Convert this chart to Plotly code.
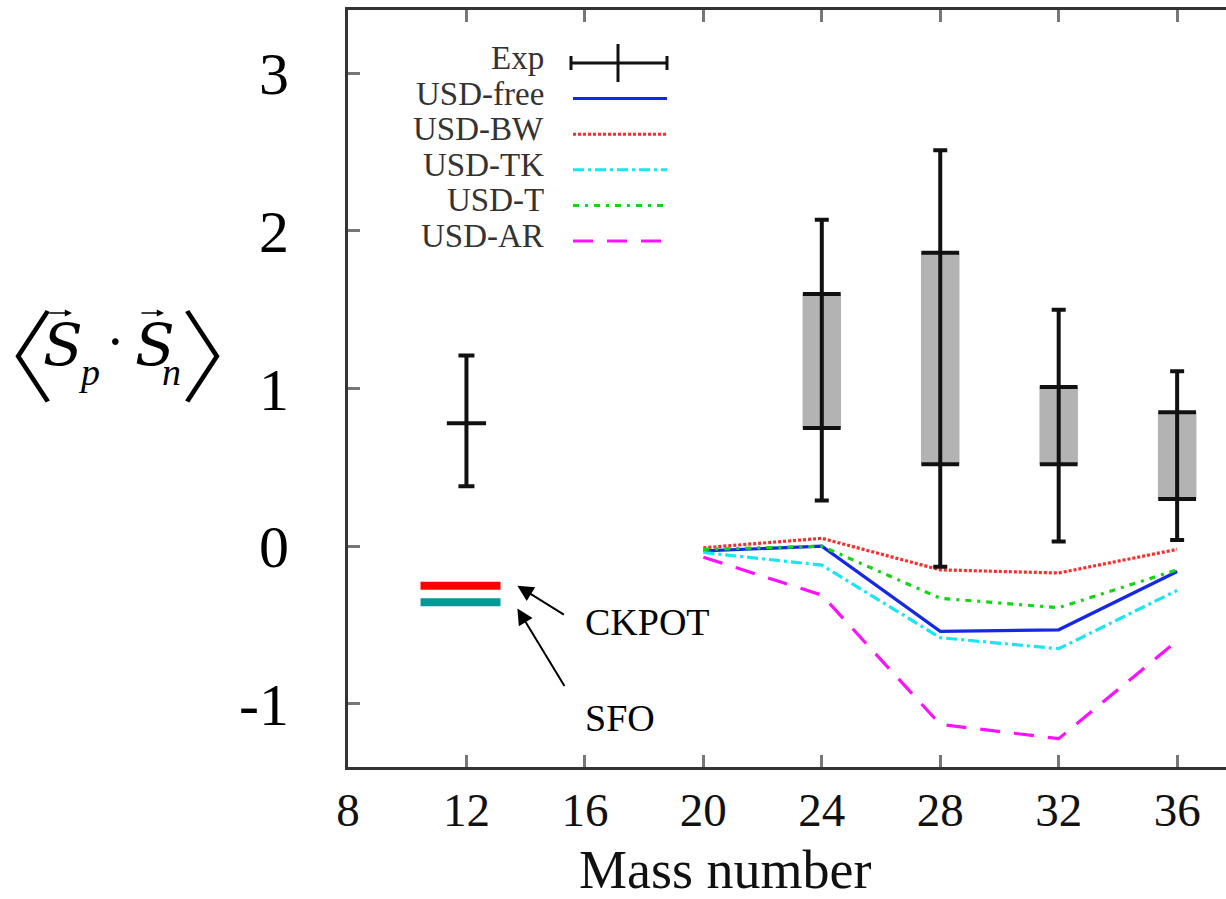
import plotly.graph_objects as go

# ---- data ----------------------------------------------------------------
mass_models = [20, 24, 28, 32, 36]
usd_free = [-0.03, 0.00, -0.54, -0.53, -0.16]
usd_bw = [-0.01, 0.05, -0.15, -0.17, -0.02]
usd_tk = [-0.04, -0.12, -0.58, -0.65, -0.28]
usd_t = [-0.02, 0.00, -0.33, -0.39, -0.15]
usd_ar = [-0.07, -0.31, -1.13, -1.22, -0.60]

# single measured value (A = 12)
exp_single_mass = [12]
exp_single_val = [0.78]
exp_single_lo = [0.38]
exp_single_hi = [1.21]

# measured ranges (A = 24..36): shaded band plus total error bar
exp_mass = [24, 28, 32, 36]
exp_band_lo = [0.75, 0.52, 0.52, 0.30]
exp_band_hi = [1.60, 1.86, 1.01, 0.85]
exp_err_lo = [0.29, -0.13, 0.03, 0.04]
exp_err_hi = [2.07, 2.51, 1.50, 1.11]

# A = 12 shell-model results with other interactions
ref_mass = 12
ckpot_val = -0.25
sfo_val = -0.355

x_ticks = [8, 12, 16, 20, 24, 28, 32, 36]
y_ticks = [-1, 0, 1, 2, 3]
y_tick_text = ["-1", "0", "1", "2", "3"]

series_names = ["USD-free", "USD-BW", "USD-TK", "USD-T", "USD-AR"]
series_values = [usd_free, usd_bw, usd_tk, usd_t, usd_ar]
series_colors = ["#1428e6", "#ff2a2a", "#18e6f0", "#10d810", "#ff10ff"]
series_dash = ["solid", "3px,2px", "11px,4px,3px,4px", "6px,6px,3px,6px", "20px,14px"]

# ---- layout geometry (pixels) -------------------------------------------
W, H = 1226, 899
L, R, T, B = 348, 1226, 10, 767


def px(x):
    return (x - L) / (R - L)


def py(y):
    return (B - y) / (B - T)


SERIF = "Liberation Serif, Times New Roman, serif"

fig = go.Figure()

# shaded experimental bands
fig.add_trace(go.Bar(
    x=exp_mass,
    base=exp_band_lo,
    y=[h - l for h, l in zip(exp_band_hi, exp_band_lo)],
    width=1.3,
    marker=dict(color="#b3b3b3", line=dict(width=0)),
    showlegend=False,
    hoverinfo="skip",
))

# model curves
for name, vals, col, dash in zip(series_names, series_values, series_colors, series_dash):
    fig.add_trace(go.Scatter(
        x=mass_models, y=vals, mode="lines", name=name,
        line=dict(color=col, width=3.2, dash=dash),
        showlegend=False,
    ))

# total experimental error bars for the ranges
mid = [(h + l) / 2 for h, l in zip(exp_err_hi, exp_err_lo)]
fig.add_trace(go.Scatter(
    x=exp_mass, y=mid, mode="markers",
    marker=dict(size=1, color="rgba(0,0,0,0)"),
    error_y=dict(type="data", symmetric=False,
                 array=[h - m for h, m in zip(exp_err_hi, mid)],
                 arrayminus=[m - l for m, l in zip(mid, exp_err_lo)],
                 color="#111", thickness=4, width=7),
    showlegend=False,
))
# band edges
fig.add_trace(go.Scatter(
    x=exp_mass + exp_mass, y=exp_band_lo + exp_band_hi, mode="markers",
    marker=dict(symbol="line-ew", size=27, line=dict(color="#111", width=4)),
    showlegend=False,
))

# single measured point
fig.add_trace(go.Scatter(
    x=exp_single_mass, y=exp_single_val, mode="markers",
    marker=dict(symbol="line-ew", size=28, line=dict(color="#111", width=4)),
    error_y=dict(type="data", symmetric=False,
                 array=[h - v for h, v in zip(exp_single_hi, exp_single_val)],
                 arrayminus=[v - l for v, l in zip(exp_single_val, exp_single_lo)],
                 color="#111", thickness=4, width=8),
    showlegend=False,
))

# CKPOT / SFO markers at A = 12
for val, col in [(ckpot_val, "#ff0000"), (sfo_val, "#009a98")]:
    fig.add_trace(go.Scatter(
        x=[ref_mass - 1.55, ref_mass + 1.15], y=[val, val], mode="lines",
        line=dict(color=col, width=8), showlegend=False,
    ))

annotations = []
shapes = []

# arrows to the A = 12 markers
for val, dx, dy in [(ckpot_val, 48, 30), (sfo_val - 0.04, 48, 79)]:
    annotations.append(dict(
        x=ref_mass + 1.72, y=val, xref="x", yref="y", text="",
        showarrow=True, ax=dx, ay=dy, arrowhead=2, arrowsize=1.6,
        arrowwidth=2, arrowcolor="#000",
    ))
annotations.append(dict(x=px(583), y=py(622), xref="paper", yref="paper",
                        text="CKPOT", showarrow=False, xanchor="left", yanchor="middle",
                        font=dict(family=SERIF, size=38, color="#000")))
annotations.append(dict(x=px(583), y=py(718), xref="paper", yref="paper",
                        text="SFO", showarrow=False, xanchor="left", yanchor="middle",
                        font=dict(family=SERIF, size=38, color="#000")))

# key
row0, step = 63, 35.6
text_right, s_left, s_right = 546, 571, 667
leg_font = dict(family=SERIF, size=33, color="#333")
annotations.append(dict(x=px(text_right), y=py(row0 - 5), xref="paper", yref="paper",
                        text="Exp", showarrow=False, xanchor="right", yanchor="middle",
                        font=leg_font))
shapes += [
    dict(type="line", xref="paper", yref="paper", x0=px(s_left), x1=px(s_right),
         y0=py(row0), y1=py(row0), line=dict(color="#111", width=3)),
    dict(type="line", xref="paper", yref="paper", x0=px(s_left), x1=px(s_left),
         y0=py(row0 - 7), y1=py(row0 + 7), line=dict(color="#111", width=3)),
    dict(type="line", xref="paper", yref="paper", x0=px(s_right), x1=px(s_right),
         y0=py(row0 - 7), y1=py(row0 + 7), line=dict(color="#111", width=3)),
    dict(type="line", xref="paper", yref="paper", x0=px(618), x1=px(618),
         y0=py(row0 - 19), y1=py(row0 + 19), line=dict(color="#111", width=3)),
]
for i, (name, col, dash) in enumerate(zip(series_names, series_colors, series_dash)):
    yy = row0 + step * (i + 1)
    annotations.append(dict(x=px(text_right), y=py(yy - 5), xref="paper", yref="paper",
                            text=name, showarrow=False, xanchor="right", yanchor="middle",
                            font=leg_font))
    shapes.append(dict(type="line", xref="paper", yref="paper",
                       x0=px(s_left + 2), x1=px(s_right), y0=py(yy), y1=py(yy),
                       line=dict(color=col, width=3, dash=dash)))

# x-axis title
annotations.append(dict(x=px(725), y=py(870), xref="paper", yref="paper",
                        text="Mass number", showarrow=False, xanchor="center", yanchor="middle",
                        font=dict(family=SERIF, size=54, color="#111")))


# y-axis title <S_p . S_n>, set piece by piece
def ylab(text, x, y, size, family=SERIF, italic=False, weight=None):
    font = dict(family=family, size=size, color="#000")
    if weight is not None:
        font["weight"] = weight
    if italic:
        font["style"] = "italic"
    annotations.append(dict(x=px(x), y=py(y), xref="paper", yref="paper", text=text,
                            showarrow=False, xanchor="center", yanchor="middle",
                            font=font))


ylab("\u3008", 5, 350, 100, family="Noto Sans CJK SC", weight=300)
ylab("S", 63, 345, 58, family="DejaVu Serif", italic=True)
ylab("p", 89, 372, 38, italic=True)
ylab("\u00b7", 115, 342, 56)
ylab("S", 155, 345, 58, family="DejaVu Serif", italic=True)
ylab("n", 171, 372, 38, italic=True)
ylab("\u3009", 230, 350, 100, family="Noto Sans CJK SC", weight=300)

# vector arrows over the two S
for xa in [48, 140]:
    annotations.append(dict(
        x=px(xa + 24), y=py(313), xref="paper", yref="paper", text="",
        showarrow=True, ax=-24, ay=0, arrowhead=2, arrowsize=0.9,
        arrowwidth=1.6, arrowcolor="#000",
    ))

fig.update_layout(
    width=W, height=H,
    margin=dict(l=L, r=W - R, t=T, b=H - B),
    paper_bgcolor="white", plot_bgcolor="white",
    showlegend=False,
    annotations=annotations,
    shapes=shapes,
    xaxis=dict(range=[8, 37.65], tickvals=x_ticks, ticks="inside", ticklen=12,
               tickwidth=3, tickcolor="#777", showline=True, linecolor="#333",
               linewidth=3, mirror="ticks", showgrid=False, zeroline=False,
               ticklabelstandoff=0,
               tickfont=dict(family=SERIF, size=47, color="#111")),
    yaxis=dict(range=[-1.4, 3.4], tickvals=y_ticks, ticktext=y_tick_text,
               ticks="inside", ticklen=12, tickwidth=3, tickcolor="#777",
               showline=True, linecolor="#333", linewidth=3, mirror=False,
               showgrid=False, zeroline=False, ticklabelstandoff=44,
               tickfont=dict(family=SERIF, size=60, color="#000")),
    # right-hand tick marks, no frame line on that side
    yaxis2=dict(range=[-1.4, 3.4], overlaying="y", side="right", tickvals=y_ticks,
                ticks="inside", ticklen=12, tickwidth=3, tickcolor="#777",
                showticklabels=False, showline=False, showgrid=False, zeroline=False),
)

fig.write_html("out.html")
